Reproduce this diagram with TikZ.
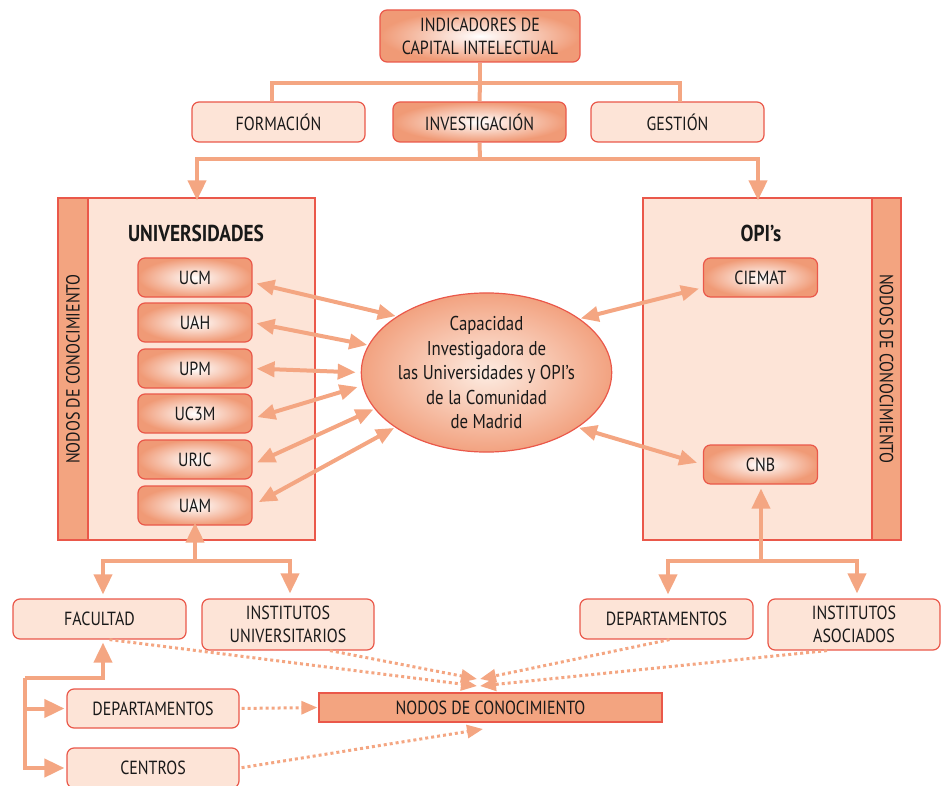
\documentclass[tikz,border=0pt]{standalone}
\usepackage{fontspec}
\setmainfont{PT Sans}[FakeStretch=0.84]
\usetikzlibrary{shapes.geometric,arrows.meta}
\definecolor{ln}{RGB}{244,166,130}
\definecolor{bd}{RGB}{234,88,74}
\definecolor{lt}{RGB}{253,228,215}
\definecolor{stripc}{RGB}{243,164,128}
\definecolor{gro}{RGB}{240,154,118}
\definecolor{ello}{RGB}{242,162,128}
\definecolor{ellin}{RGB}{253,236,226}
\definecolor{tx}{RGB}{25,25,25}
\begin{document}
\begin{tikzpicture}[x=1pt,y=-1pt,
  every node/.style={font=\fontsize{19}{23}\selectfont,text=tx,align=center,inner sep=0pt},
  lbox/.style={draw=bd,line width=1.2pt,fill=lt,rounded corners=7pt},
  gbox/.style={draw=bd,line width=1.2pt,rounded corners=7pt,inner color=white,outer color=gro},
  ubox/.style={gbox,minimum width=114pt,minimum height=39pt},
  bigbox/.style={draw=bd,line width=1.2pt,fill=lt},
  stripbox/.style={draw=bd,line width=1.2pt,fill=stripc},
  conn/.style={draw=ln,line width=4pt},
  carr/.style={conn,-{Triangle[length=20pt,width=18pt]}},
  darr/.style={conn,{Triangle[length=18pt,width=15pt]}-{Triangle[length=18pt,width=15pt]}},
  dotarr/.style={draw=ln,line width=3pt,dash pattern=on 3pt off 3pt,-{Triangle[length=16pt,width=13pt]}},
  titlef/.style={font=\bfseries\fontsize{23}{26}\selectfont}
]
\useasboundingbox (0,0) rectangle (942,786);

% top
\node[gbox,minimum width=200pt,minimum height=52pt] (ind) at (480,36) {INDICADORES DE\\CAPITAL INTELECTUAL};
\node[lbox,minimum width=173pt,minimum height=40pt] (form) at (278.5,122) {FORMACIÓN};
\node[gbox,minimum width=173pt,minimum height=40pt] (inv) at (479.5,122) {INVESTIGACIÓN};
\node[lbox,minimum width=173pt,minimum height=40pt] (gest) at (677.5,122) {GESTIÓN};

% big boxes
\node[bigbox,minimum width=257pt,minimum height=342pt] (ubig) at (186.5,369) {};
\node[stripbox,minimum width=30pt,minimum height=342pt] (ustrip) at (73,369) {};
\node[rotate=90] (ulab) at (ustrip.center) {NODOS DE CONOCIMIENTO};
\node[bigbox,minimum width=258pt,minimum height=342pt] (obig) at (772,369) {};
\node[stripbox,minimum width=29pt,minimum height=342pt] (ostrip) at (886.5,369) {};
\node[rotate=-90] (olab) at (ostrip.center) {NODOS DE CONOCIMIENTO};

\node[titlef] (utitle) at (196,233) {UNIVERSIDADES};
\node[titlef] (otitle) at (761,233) {OPI’s};

\node[ubox] (ucm) at (195,277.5) {UCM};
\node[ubox] (uah) at (195,322.5) {UAH};
\node[ubox] (upm) at (195,368.5) {UPM};
\node[ubox] (uc3m) at (195,413.5) {UC3M};
\node[ubox] (urjc) at (195,459.5) {URJC};
\node[ubox] (uam) at (195,505.5) {UAM};

\node[ubox] (ciemat) at (760.5,277.5) {CIEMAT};
\node[ubox] (cnb) at (760.5,464.5) {CNB};

\node[ellipse,draw=bd,line width=1.2pt,inner color=ellin,outer color=ello,
  minimum width=243pt,minimum height=149pt,font=\fontsize{20}{24.5}\selectfont] (cap) at (486.5,372.5)
  {Capacidad\\Investigadora de\\las Universidades y OPI’s\\de la Comunidad\\de Madrid};

% bottom boxes
\node[lbox,minimum width=173pt,minimum height=40pt] (fac) at (99.5,619) {FACULTAD};
\node[lbox,minimum width=172pt,minimum height=51pt] (iu) at (288,624.5) {INSTITUTOS\\UNIVERSITARIOS};
\node[lbox,minimum width=173pt,minimum height=40pt] (depr) at (666.5,619) {DEPARTAMENTOS};
\node[lbox,minimum width=172pt,minimum height=51pt] (ia) at (854,624.5) {INSTITUTOS\\ASOCIADOS};
\node[lbox,minimum width=172pt,minimum height=39pt] (depl) at (153,708.5) {DEPARTAMENTOS};
\node[lbox,minimum width=172pt,minimum height=40pt] (cen) at (153,768) {CENTROS};
\node[draw=bd,line width=1.2pt,fill=stripc,minimum width=343pt,minimum height=29pt] (nodos) at (490.5,707.5) {NODOS DE CONOCIMIENTO};

% top connectors
\coordinate (j1) at (480,83);
\draw[conn] (ind.south) -- (j1);
\draw[conn] (272,102) |- (j1) -| (680,102);
\draw[conn] (j1) -- (inv.north);
\coordinate (j2) at (480,159);
\draw[conn] (inv.south) -- (j2);
\draw[carr] (j2) -| ([yshift=-3pt]ubig.north -| 197,0);
\draw[carr] (j2) -| ([yshift=-3pt]obig.north -| 758,0);

% double arrows to ellipse
\draw[darr,shorten <=4pt,shorten >=1pt] (ucm.-5) -- (cap.148);
\draw[darr,shorten <=4pt,shorten >=1pt] (uah.east) -- (cap.167);
\draw[darr,shorten <=4pt,shorten >=5pt] (upm.east) -- (cap.180);
\draw[darr,shorten <=5pt,shorten >=5pt] (uc3m.-5) -- (cap.186);
\draw[darr,shorten <=5pt,shorten >=1pt] (urjc.-5) -- (cap.198);
\draw[darr,shorten <=7pt,shorten >=1pt] (uam.east) -- (cap.211);
\draw[darr,shorten <=1pt,shorten >=4pt] (cap.30) -- (ciemat.190);
\draw[darr,shorten <=1pt,shorten >=6pt] (cap.-31) -- (cnb.west);

% lower trees
\coordinate (jl) at (195,561);
\draw[carr,shorten >=-3pt] (jl) -- (uam.south);
\draw[carr,shorten >=4pt] (jl) -| ([xshift=3.5pt]fac.north);
\draw[carr,shorten >=5pt] (jl) -| ([xshift=2pt]iu.north);
\coordinate (jr) at (761,561);
\draw[carr,shorten >=4pt] (jr) -- ([xshift=0.5pt]cnb.south);
\draw[carr,shorten >=4pt] (jr) -| ([xshift=1.5pt]depr.north);
\draw[carr,shorten >=5pt] (jr) -| ([xshift=3pt]ia.north);

\coordinate (jf) at (25,678);
\draw[carr,shorten >=3pt] (jf) -| ([xshift=3.5pt]fac.south);
\draw[carr,shorten >=2pt] (jf) |- (depl.west);
\draw[carr,shorten >=2pt] (jf) |- (cen.west);

% dotted arrows
\coordinate (t1) at (477,686);
\coordinate (t2) at (477,679);
\coordinate (t3) at (480,679);
\coordinate (t4) at (480,686);
\coordinate (t5) at (483,729);
\draw[dotarr] ([xshift=10pt]fac.south) -- (t1);
\draw[dotarr] ([xshift=42pt]iu.south) -- (t2);
\draw[dotarr] ([xshift=3pt]depr.south) -- (t3);
\draw[dotarr] ([xshift=-27pt]ia.south) -- (t4);
\draw[dotarr,shorten <=2pt,shorten >=1pt] (depl.east) -- (nodos.west);
\draw[dotarr,shorten <=2pt] (cen.east) -- (t5);
\end{tikzpicture}
\end{document}
